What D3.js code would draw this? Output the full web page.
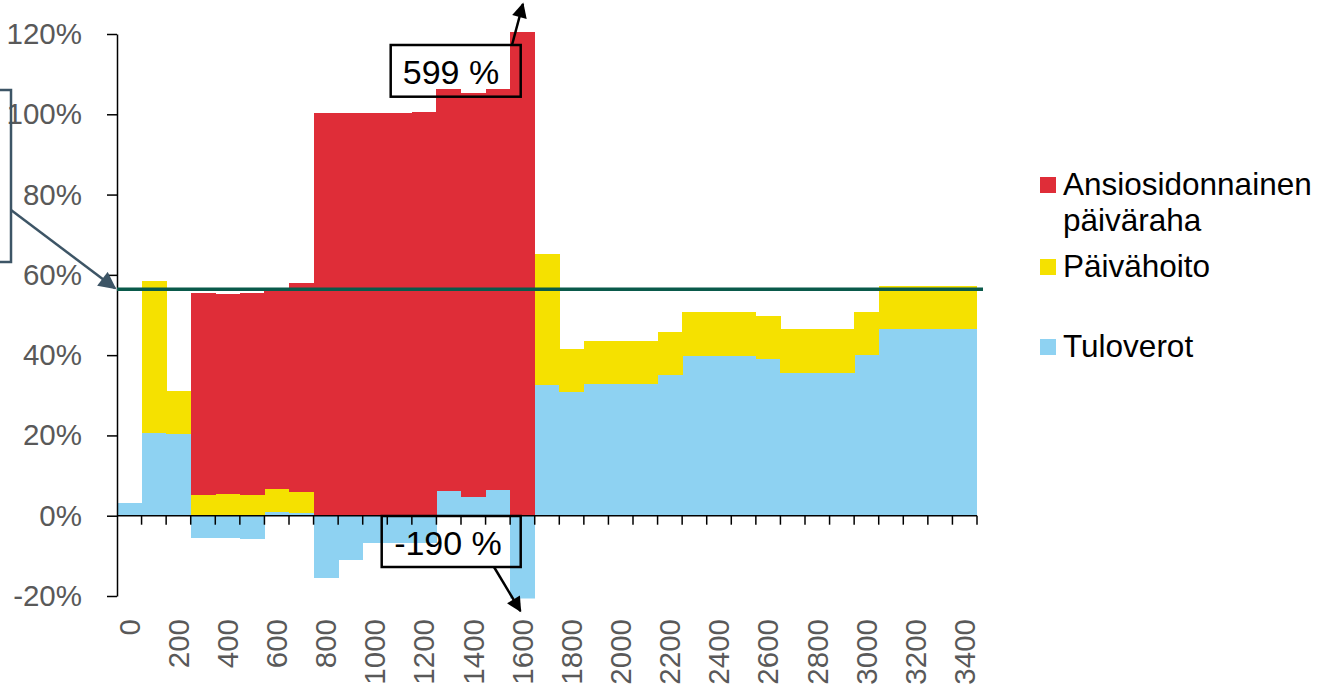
<!DOCTYPE html>
<html>
<head>
<meta charset="utf-8">
<script src="https://cdn.jsdelivr.net/npm/d3@7"></script>
<style>
  html, body { margin: 0; padding: 0; background: #fff; }
  svg { display: block; font-family: "Liberation Sans", Arial, sans-serif; }
</style>
</head>
<body>
<div id="chart"></div>
<script>
// Tulotasot (kategoriat, euroa/kk)
const categories = ['0', '100', '200', '300', '400', '500', '600', '700', '800', '900',
  '1000', '1100', '1200', '1300', '1400', '1500', '1600', '1700', '1800', '1900',
  '2000', '2100', '2200', '2300', '2400', '2500', '2600', '2700', '2800', '2900',
  '3000', '3100', '3200', '3300', '3400'];

// Sarjat (% tulonlisäyksestä)
const tuloverot = [3.1, 20.5, 20.3, -5.6, -5.6, -5.7, 1.0, 0.7, -15.6, -11.0,
  -6.9, -6.9, -6.9, 6.2, 4.7, 6.4, -190, 32.6, 30.8, 32.8,
  32.8, 32.8, 35.0, 39.9, 39.9, 39.9, 39.0, 35.5, 35.5, 35.5,
  40.0, 46.4, 46.4, 46.4, 46.4];
const paivahoito = [0, 38.0, 10.8, 5.15, 5.3, 5.15, 5.6, 5.2, 0, 0,
  0, 0, 0, 0, 0, 0, 0, 32.5, 10.7, 10.7,
  10.7, 10.7, 10.8, 10.8, 10.8, 10.8, 10.7, 10.9, 10.9, 10.9,
  10.8, 10.8, 10.8, 10.8, 10.8];
const ansiopaivaraha = [0, 0, 0, 50.35, 49.9, 50.35, 50.2, 52.1, 100.2, 100.2,
  100.2, 100.2, 100.5, 100.2, 100.6, 100.0, 599, 0, 0, 0,
  0, 0, 0, 0, 0, 0, 0, 0, 0, 0,
  0, 0, 0, 0, 0];

// Vaakaviiva (keskimääräinen efektiivinen rajaveroaste)
const keskiarvo = 56.4;

const yTicks = [-20, 0, 20, 40, 60, 80, 100, 120];

const seriesKeys = ['tuloverot', 'paivahoito', 'ansio'];
const colors = { tuloverot: '#8ed2f2', paivahoito: '#f5e100', ansio: '#df2d38' };
const legendItems = [
  { key: 'ansio', lines: ['Ansiosidonnainen', 'päiväraha'] },
  { key: 'paivahoito', lines: ['Päivähoito'] },
  { key: 'tuloverot', lines: ['Tuloverot'] }
];

const W = 1320, H = 687;
const svg = d3.select('#chart').append('svg')
  .attr('width', W)
  .attr('height', H);

// Taulukko pinoamista varten
const table = categories.map((c, i) => ({
  cat: c,
  tuloverot: tuloverot[i],
  paivahoito: paivahoito[i],
  ansio: ansiopaivaraha[i]
}));

const stacked = d3.stack()
  .keys(seriesKeys)
  .offset(d3.stackOffsetDiverging)(table);

// Skaalat
const x = d3.scaleBand()
  .domain(categories)
  .range([117, 977])
  .padding(0);

const y = d3.scaleLinear()
  .domain([-20, 120])
  .range([596, 34]);

// Leikkausalue
svg.append('defs').append('clipPath')
  .attr('id', 'plot-clip')
  .append('rect')
  .attr('x', x.range()[0])
  .attr('y', y(120.5))
  .attr('width', x.range()[1] - x.range()[0])
  .attr('height', y(-20.6) - y(120.5));

const plot = svg.append('g').attr('clip-path', 'url(#plot-clip)');

plot.selectAll('g.series')
  .data(stacked)
  .enter()
  .append('g')
  .attr('class', 'series')
  .attr('fill', d => colors[d.key])
  .selectAll('rect')
  .data(d => d)
  .enter()
  .append('rect')
  .attr('x', d => x(d.data.cat))
  .attr('width', x.bandwidth() + 0.4)
  .attr('y', d => y(Math.max(d[0], d[1])))
  .attr('height', d => Math.abs(y(d[0]) - y(d[1])))
  .attr('shape-rendering', 'crispEdges');

// Y-akseli
const yAxis = svg.append('g')
  .attr('transform', `translate(${x.range()[0]},0)`)
  .call(d3.axisLeft(y)
    .tickValues(yTicks)
    .tickSize(10)
    .tickSizeOuter(0)
    .tickPadding(25)
    .tickFormat(d => d + '%'));

yAxis.select('.domain').attr('stroke', '#000').attr('stroke-width', 1.5);
yAxis.selectAll('.tick line').attr('stroke', '#000').attr('stroke-width', 1.5);
yAxis.selectAll('.tick text')
  .attr('fill', '#595959')
  .style('font-size', '29.5px')
  .style('font-family', '"Liberation Sans", Arial, sans-serif');

// X-akseli
const xAxis = svg.append('g');

xAxis.append('line')
  .attr('x1', x.range()[0])
  .attr('x2', x.range()[1])
  .attr('y1', y(0))
  .attr('y2', y(0))
  .attr('stroke', '#000')
  .attr('stroke-width', 1.5);

xAxis.selectAll('line.tick')
  .data(categories)
  .enter()
  .append('line')
  .attr('class', 'tick')
  .attr('x1', d => x(d) + x.bandwidth())
  .attr('x2', d => x(d) + x.bandwidth())
  .attr('y1', y(0))
  .attr('y2', y(0) + 9)
  .attr('stroke', '#000')
  .attr('stroke-width', 1.5);

// Joka toinen kategorianimi
xAxis.selectAll('text.lbl')
  .data(categories.filter((d, i) => i % 2 === 0))
  .enter()
  .append('text')
  .attr('class', 'lbl')
  .attr('transform', d => `translate(${x(d) + x.bandwidth() / 2},619) rotate(-90)`)
  .attr('dy', '0.35em')
  .attr('text-anchor', 'end')
  .attr('fill', '#595959')
  .style('font-size', '29.5px')
  .text(d => d);

// Vaakaviiva
svg.append('line')
  .attr('x1', x.range()[0])
  .attr('x2', x.range()[1] + 6)
  .attr('y1', y(keskiarvo))
  .attr('y2', y(keskiarvo))
  .attr('stroke', '#0a5a4b')
  .attr('stroke-width', 3.5);

// Nuolenkärjet
const defs = svg.select('defs');
defs.append('marker')
  .attr('id', 'arrow-black')
  .attr('viewBox', '0 0 10 10')
  .attr('refX', 9)
  .attr('refY', 5)
  .attr('markerWidth', 7)
  .attr('markerHeight', 6)
  .attr('markerUnits', 'strokeWidth')
  .attr('orient', 'auto')
  .append('path')
  .attr('d', 'M0,0 L10,5 L0,10 Z')
  .attr('fill', '#000');

defs.append('marker')
  .attr('id', 'arrow-slate')
  .attr('viewBox', '0 0 10 10')
  .attr('refX', 9)
  .attr('refY', 5)
  .attr('markerWidth', 7.5)
  .attr('markerHeight', 7)
  .attr('markerUnits', 'strokeWidth')
  .attr('orient', 'auto')
  .append('path')
  .attr('d', 'M0,0 L10,5 L0,10 Z')
  .attr('fill', '#3d5566');

// Vasen selitelaatikko (teksti jää kuvan ulkopuolelle)
svg.append('rect')
  .attr('x', -60)
  .attr('y', 90)
  .attr('width', 71)
  .attr('height', 172)
  .attr('fill', 'none')
  .attr('stroke', '#3d5566')
  .attr('stroke-width', 2.5);

svg.append('line')
  .attr('x1', 11)
  .attr('y1', 210)
  .attr('x2', x.range()[0] - 2)
  .attr('y2', y(keskiarvo) - 1)
  .attr('stroke', '#3d5566')
  .attr('stroke-width', 2.5)
  .attr('marker-end', 'url(#arrow-slate)');

// Leikatut arvot: 599 % ja -190 %
const c16 = x('1600') + x.bandwidth() / 2;

svg.append('rect')
  .attr('x', 390.7)
  .attr('y', 45)
  .attr('width', 130)
  .attr('height', 51.7)
  .attr('fill', 'none')
  .attr('stroke', '#000')
  .attr('stroke-width', 2.5);

svg.append('text')
  .attr('x', 451)
  .attr('y', 83.5)
  .attr('text-anchor', 'middle')
  .attr('fill', '#000')
  .style('font-size', '34px')
  .text(ansiopaivaraha[16] + ' %');

svg.append('line')
  .attr('x1', 512)
  .attr('y1', 45)
  .attr('x2', c16 + 0.5)
  .attr('y2', 4)
  .attr('stroke', '#000')
  .attr('stroke-width', 2.5)
  .attr('marker-end', 'url(#arrow-black)');

svg.append('rect')
  .attr('x', 381.7)
  .attr('y', 516)
  .attr('width', 139)
  .attr('height', 51)
  .attr('fill', 'none')
  .attr('stroke', '#000')
  .attr('stroke-width', 2.5);

svg.append('text')
  .attr('x', 448)
  .attr('y', 555)
  .attr('text-anchor', 'middle')
  .attr('fill', '#000')
  .style('font-size', '34px')
  .text(tuloverot[16] + ' %');

svg.append('line')
  .attr('x1', 494)
  .attr('y1', 567)
  .attr('x2', c16 - 2)
  .attr('y2', 611)
  .attr('stroke', '#000')
  .attr('stroke-width', 2.5)
  .attr('marker-end', 'url(#arrow-black)');

// Selite
const legend = svg.append('g').attr('transform', 'translate(1040,0)');
const legendY = [185, 267, 347];

legendItems.forEach((item, i) => {
  legend.append('rect')
    .attr('x', 0)
    .attr('y', legendY[i] - 8)
    .attr('width', 16)
    .attr('height', 16)
    .attr('fill', colors[item.key]);

  item.lines.forEach((line, j) => {
    legend.append('text')
      .attr('x', 23)
      .attr('y', legendY[i] + 10 + j * 36)
      .attr('fill', '#000')
      .style('font-size', '31.5px')
      .text(line);
  });
});
</script>
</body>
</html>
